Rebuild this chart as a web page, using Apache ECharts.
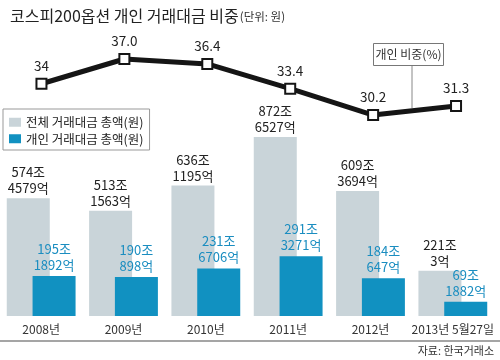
<!DOCTYPE html>
<html>
<head>
<meta charset="utf-8">
<script src="https://cdn.jsdelivr.net/npm/echarts@6/dist/echarts.min.js"></script>
<style>
html,body{margin:0;padding:0;background:#fff;}
#chart{width:500px;height:360px;}
</style>
</head>
<body>
<div id="chart"></div>
<script>
// ---- data ----
const categories = ['2008년', '2009년', '2010년', '2011년', '2012년', '2013년 5월27일'];
const totalJo = [574, 513, 636, 872, 609, 221];
const totalEok = [4579, 1563, 1195, 6527, 3694, 3];
const indivJo = [195, 190, 231, 291, 184, 69];
const indivEok = [1892, 898, 6706, 3271, 647, 1882];
const ratio = [34, 37.0, 36.4, 33.4, 30.2, 31.3];
const ratioLabels = ['34', '37.0', '36.4', '33.4', '30.2', '31.3'];

const FONT = '"Noto Sans CJK KR", "Noto Sans", sans-serif';
const totalVals = totalJo.map((j, i) => j + totalEok[i] / 10000);
const indivVals = indivJo.map((j, i) => j + indivEok[i] / 10000);

const chart = echarts.init(document.getElementById('chart'), null, {renderer: 'canvas'});
chart.setOption({
  backgroundColor: '#fff',
  animation: false,
  textStyle: {fontFamily: FONT},
  title: {
    left: 5, top: 3,
    text: '{a|코스피200옵션 개인 거래대금 비중}{b|(단위: 원)}',
    textStyle: {
      fontWeight: 'normal',
      rich: {
        a: {fontFamily: FONT, fontSize: 16, color: '#222', fontWeight: 'normal'},
        b: {fontFamily: FONT, fontSize: 11.5, color: '#333', fontWeight: 'normal', padding: [2, 0, 0, 1]}
      }
    }
  },
  legend: {
    left: 3, top: 109, orient: 'vertical',
    data: ['전체 거래대금 총액(원)', '개인 거래대금 총액(원)'],
    icon: 'rect', itemWidth: 12, itemHeight: 9, itemGap: 4,
    borderColor: '#999', borderWidth: 1, padding: [7, 6, 5, 6],
    textStyle: {fontFamily: FONT, fontSize: 12.5, color: '#222'}
  },
  grid: [
    {left: -3.5, width: 497.5, top: 111, height: 205},
    {left: 0, width: 497.5, top: 34.3, height: 82.4}
  ],
  xAxis: [
    {type: 'category', gridIndex: 0, data: categories,
     axisLine: {show: false}, axisTick: {show: false},
     axisLabel: {interval: 0, margin: 7, fontSize: 12, color: '#333', fontFamily: FONT}},
    {type: 'category', gridIndex: 1, data: categories, show: false}
  ],
  yAxis: [
    {type: 'value', gridIndex: 0, min: 0, max: 1000, show: false, splitLine: {show: false}},
    {type: 'value', gridIndex: 1, min: 30, max: 40, show: false, splitLine: {show: false}}
  ],
  series: [
    {
      name: '전체 거래대금 총액(원)', type: 'bar', xAxisIndex: 0, yAxisIndex: 0,
      data: totalVals, barWidth: 43, barGap: '-40%',
      itemStyle: {color: '#c9d4d9'},
      label: {
        show: true, position: 'top', distance: 2,
        formatter: p => totalJo[p.dataIndex] + '조\n' + totalEok[p.dataIndex] + '억',
        fontFamily: FONT, fontSize: 13, lineHeight: 16, color: '#222'
      }
    },
    {
      name: '개인 거래대금 총액(원)', type: 'bar', xAxisIndex: 0, yAxisIndex: 0,
      data: indivVals, barWidth: 43,
      itemStyle: {color: '#1191c1'},
      label: {
        show: true, position: 'top', distance: 3,
        formatter: p => indivJo[p.dataIndex] + '조\n' + indivEok[p.dataIndex] + '억',
        fontFamily: FONT, fontSize: 13, lineHeight: 16, color: '#1a8dc0'
      }
    },
    {
      name: '개인 비중(%)', type: 'line', xAxisIndex: 1, yAxisIndex: 1,
      data: ratio,
      lineStyle: {color: '#151515', width: 5},
      symbol: 'rect', symbolSize: 10,
      itemStyle: {color: '#fff', borderColor: '#151515', borderWidth: 2},
      label: {
        show: true, position: 'top', distance: 5,
        formatter: p => ratioLabels[p.dataIndex],
        fontFamily: FONT, fontSize: 13.5, color: '#222'
      },
      z: 5
    }
  ],
  graphic: [
    {type: 'line', shape: {x1: 412, y1: 66, x2: 412, y2: 108}, style: {stroke: '#888', lineWidth: 1}, z: 1},
    {type: 'rect', shape: {x: 373.5, y: 43.5, width: 70, height: 22}, style: {fill: '#fff', stroke: '#777', lineWidth: 1}},
    {type: 'text', x: 408.5, y: 54.5, style: {text: '개인 비중(%)', fontFamily: FONT, fontSize: 12, fill: '#333', align: 'center', verticalAlign: 'middle'}},
    {type: 'line', shape: {x1: 0, y1: 341, x2: 500, y2: 341}, style: {stroke: '#a5a5a5', lineWidth: 2}},
    {type: 'text', x: 494, y: 351, style: {text: '자료: 한국거래소', fontFamily: FONT, fontSize: 11, fill: '#333', align: 'right', verticalAlign: 'middle'}}
  ]
});
</script>
</body>
</html>
